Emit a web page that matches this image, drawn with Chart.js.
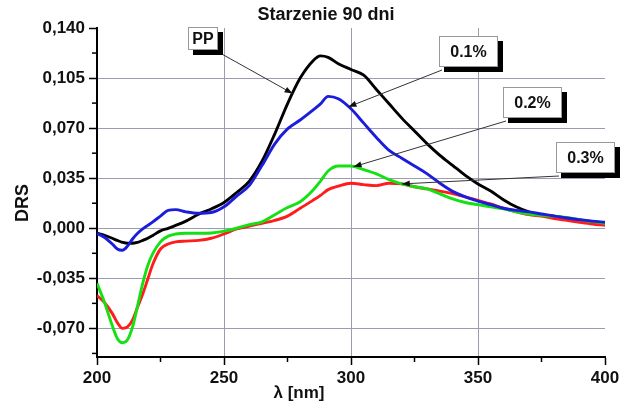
<!DOCTYPE html>
<html>
<head>
<meta charset="utf-8">
<script src="https://cdn.jsdelivr.net/npm/chart.js@4.4.1/dist/chart.umd.min.js"></script>
<style>
  body { margin: 0; background: #fff; }
  canvas { display: block; }
</style>
</head>
<body>
<canvas id="drs-chart" width="633" height="406"></canvas>
<script>
// wavelength grid (nm) shared by all curves
var wavelengths = [200, 203, 206, 208, 210, 212, 214, 216, 218, 220, 222, 225, 228, 231, 235, 240, 245, 250, 255, 260,
  265, 270, 275, 280, 285, 288, 291, 295, 300, 305, 310, 315, 320, 325, 330, 335, 340, 345, 350, 355,
  360, 365, 370, 375, 380, 385, 390, 395, 400];

var seriesNames = ['PP', '0.1%', '0.2%', '0.3%'];

var drsPP = [-0.0035, -0.005, -0.007, -0.0085, -0.0098, -0.0105, -0.0105, -0.0098, -0.0085, -0.007, -0.005, -0.0018, 0.0, 0.002, 0.005, 0.0098, 0.0135, 0.018, 0.025, 0.033,
  0.047, 0.066, 0.087, 0.105, 0.117, 0.1205, 0.1195, 0.115, 0.111, 0.107, 0.097, 0.087, 0.077, 0.068, 0.059, 0.051, 0.044, 0.037, 0.031, 0.026,
  0.020, 0.015, 0.0115, 0.0095, 0.0085, 0.007, 0.0055, 0.0045, 0.0035];

var drs01 = [-0.0035, -0.0065, -0.011, -0.0145, -0.0154, -0.0125, -0.0075, -0.0035, -0.0005, 0.002, 0.0045, 0.0085, 0.0125, 0.013, 0.0115, 0.0105, 0.011, 0.015, 0.0225, 0.030,
  0.044, 0.059, 0.0695, 0.0757, 0.0826, 0.087, 0.0922, 0.0905, 0.0835, 0.0735, 0.0635, 0.0545, 0.049, 0.0435, 0.038, 0.0315, 0.0258, 0.022, 0.019, 0.0165,
  0.014, 0.0125, 0.0115, 0.010, 0.0085, 0.0072, 0.006, 0.005, 0.0042];

var drs02 = [-0.0385, -0.052, -0.068, -0.077, -0.080, -0.078, -0.069, -0.054, -0.0385, -0.026, -0.0175, -0.0095, -0.0055, -0.004, -0.0035, -0.0035, -0.0033, -0.002, 0.0, 0.0025,
  0.0045, 0.0095, 0.0145, 0.0185, 0.0265, 0.033, 0.040, 0.0435, 0.0435, 0.041, 0.038, 0.034, 0.031, 0.029, 0.0275, 0.024, 0.0205, 0.018, 0.0165, 0.015,
  0.0135, 0.0115, 0.010, 0.009, 0.0085, 0.0075, 0.006, 0.0048, 0.0035];

var drs03 = [-0.047, -0.052, -0.0595, -0.066, -0.070, -0.069, -0.064, -0.055, -0.046, -0.0355, -0.025, -0.0145, -0.011, -0.0095, -0.009, -0.0085, -0.007, -0.004, -0.0005, 0.0015,
  0.0035, 0.0055, 0.0085, 0.014, 0.0195, 0.023, 0.027, 0.0295, 0.0315, 0.0305, 0.0298, 0.0315, 0.031, 0.029, 0.0275, 0.026, 0.0242, 0.022, 0.0195, 0.017,
  0.014, 0.0115, 0.0095, 0.0085, 0.0068, 0.0055, 0.0042, 0.003, 0.0021];

var xTicks = [200, 250, 300, 350, 400];
var xMinorTicks = [225, 275, 325, 375];
var yTicks = [-0.070, -0.035, 0.000, 0.035, 0.070, 0.105, 0.140];
var yMinorTicks = [-0.0875, -0.0525, -0.0175, 0.0175, 0.0525, 0.0875, 0.1225];

// where each arrow touches its curve (nm)
var arrowTipWavelength = [277, 299, 301, 320];

var colors = ['#000000', '#1c1cdc', '#14e014', '#ff1c1c'];
var seriesData = [drsPP, drs01, drs02, drs03];

// callout boxes: centre in data units, size in px
var callouts = [
  { x: 241.7, y: 0.1327, w: 30, h: 23, side: 'right' },
  { x: 346.2, y: 0.1236, w: 59, h: 31, side: 'left' },
  { x: 371.3, y: 0.0879, w: 59, h: 31, side: 'left' },
  { x: 392.3, y: 0.0494, w: 59, h: 31, side: 'left' }
];

var valueAt = function(values, wl) {
  for (var i = 1; i < wavelengths.length; i++) {
    if (wl <= wavelengths[i]) {
      var t = (wl - wavelengths[i - 1]) / (wavelengths[i] - wavelengths[i - 1]);
      return values[i - 1] + t * (values[i] - values[i - 1]);
    }
  }
  return values[values.length - 1];
};

var drawArrow = function(ctx, x1, y1, x2, y2) {
  var ang = Math.atan2(y2 - y1, x2 - x1);
  ctx.strokeStyle = '#333';
  ctx.fillStyle = '#111';
  ctx.lineWidth = 1;
  ctx.beginPath();
  ctx.moveTo(x1, y1);
  ctx.lineTo(x2, y2);
  ctx.stroke();
  ctx.beginPath();
  ctx.moveTo(x2, y2);
  ctx.lineTo(x2 - 8 * Math.cos(ang) + 3 * Math.sin(ang), y2 - 8 * Math.sin(ang) - 3 * Math.cos(ang));
  ctx.lineTo(x2 - 8 * Math.cos(ang) - 3 * Math.sin(ang), y2 - 8 * Math.sin(ang) + 3 * Math.cos(ang));
  ctx.closePath();
  ctx.fill();
};

var extrasPlugin = {
  id: 'extras',
  afterDraw: function(chart) {
    var ctx = chart.ctx;
    var xs = chart.scales.x, ys = chart.scales.y;
    var area = chart.chartArea;
    ctx.save();

    // minor ticks
    ctx.strokeStyle = '#000';
    ctx.lineWidth = 1.5;
    xMinorTicks.forEach(function(v) {
      var px = xs.getPixelForValue(v);
      ctx.beginPath();
      ctx.moveTo(px, area.bottom);
      ctx.lineTo(px, area.bottom + 5);
      ctx.stroke();
    });
    yMinorTicks.forEach(function(v) {
      var py = ys.getPixelForValue(v);
      ctx.beginPath();
      ctx.moveTo(area.left, py);
      ctx.lineTo(area.left - 5, py);
      ctx.stroke();
    });

    // titles
    ctx.fillStyle = '#111';
    ctx.textAlign = 'center';
    ctx.textBaseline = 'middle';
    ctx.font = 'bold 18px "Liberation Sans", Arial, sans-serif';
    ctx.fillText('Starzenie 90 dni', 326, 15);
    ctx.font = 'bold 17px "Liberation Sans", Arial, sans-serif';
    ctx.fillText('\u03bb [nm]', 299, 393);
    ctx.save();
    ctx.translate(23, 203);
    ctx.rotate(-Math.PI / 2);
    ctx.font = 'bold 18px "Liberation Sans", Arial, sans-serif';
    ctx.fillText('DRS', 0, 0);
    ctx.restore();

    // callouts with arrows
    callouts.forEach(function(c, i) {
      var cx = xs.getPixelForValue(c.x), cy = ys.getPixelForValue(c.y);
      var left = Math.round(cx - c.w / 2), top = Math.round(cy - c.h / 2);
      var tipWl = arrowTipWavelength[i];
      var tx = xs.getPixelForValue(tipWl);
      var ty = ys.getPixelForValue(valueAt(seriesData[i], tipWl));
      var sx = c.side === 'right' ? left + c.w + 2 : left + 3;
      var sy = top + c.h + 3;
      drawArrow(ctx, sx, sy, tx, ty);

      ctx.fillStyle = '#000';
      ctx.fillRect(left + 5, top + 5, c.w, c.h);
      ctx.fillStyle = '#fff';
      ctx.fillRect(left, top, c.w, c.h);
      ctx.strokeStyle = '#999';
      ctx.lineWidth = 1;
      ctx.strokeRect(left + 0.5, top + 0.5, c.w - 1, c.h - 1);
      ctx.fillStyle = '#111';
      ctx.font = 'bold 16px "Liberation Sans", Arial, sans-serif';
      ctx.textAlign = 'center';
      ctx.textBaseline = 'middle';
      ctx.fillText(seriesNames[i], left + c.w / 2, top + c.h / 2 + 1);
    });

    ctx.restore();
  }
};

var datasets = seriesNames.map(function(name, i) {
  return {
    label: name,
    data: wavelengths.map(function(wl, k) { return { x: wl, y: seriesData[i][k] }; }),
    borderColor: colors[i],
    borderWidth: 2.9,
    pointRadius: 0,
    fill: false,
    cubicInterpolationMode: 'monotone',
    order: [3, 0, 1, 2][i]
  };
});

var ctx = document.getElementById('drs-chart').getContext('2d');
var chart = new Chart(ctx, {
  type: 'line',
  data: { datasets: datasets },
  options: {
    responsive: false,
    animation: false,
    devicePixelRatio: 1,
    layout: { padding: { top: 28, right: 28, left: 0, bottom: 0 } },
    plugins: {
      legend: { display: false },
      title: { display: false },
      tooltip: { enabled: false }
    },
    scales: {
      x: {
        type: 'linear',
        min: 200,
        max: 400,
        afterBuildTicks: function(scale) {
          scale.ticks = xTicks.map(function(v) { return { value: v }; });
        },
        afterFit: function(scale) { scale.height = 49; },
        border: { display: true, color: '#000', width: 2 },
        grid: {
          color: function(c) {
            return (c.tick && (c.tick.value === 200 || c.tick.value === 400)) ? 'rgba(0,0,0,0)' : '#9c9cae';
          },
          lineWidth: 1,
          tickColor: '#000',
          tickLength: 8,
          tickWidth: 1.5
        },
        ticks: {
          padding: 3,
          color: '#111',
          font: { family: '"Liberation Sans", Arial, sans-serif', size: 17, weight: 'bold' },
          maxRotation: 0
        }
      },
      y: {
        type: 'linear',
        min: -0.09,
        max: 0.14,
        afterBuildTicks: function(scale) {
          scale.ticks = yTicks.map(function(v) { return { value: v }; });
        },
        afterFit: function(scale) { scale.width = 97; },
        border: { display: true, color: '#000', width: 2 },
        grid: {
          color: function(c) {
            return (c.tick && c.tick.value >= 0.14) ? 'rgba(0,0,0,0)' : '#9c9cae';
          },
          lineWidth: 1,
          tickColor: '#000',
          tickLength: 8,
          tickWidth: 1.5
        },
        ticks: {
          padding: 4,
          color: '#111',
          font: { family: '"Liberation Sans", Arial, sans-serif', size: 17, weight: 'bold' },
          callback: function(v) { return v.toFixed(3).replace('.', ','); }
        }
      }
    }
  },
  plugins: [extrasPlugin]
});
</script>
</body>
</html>
